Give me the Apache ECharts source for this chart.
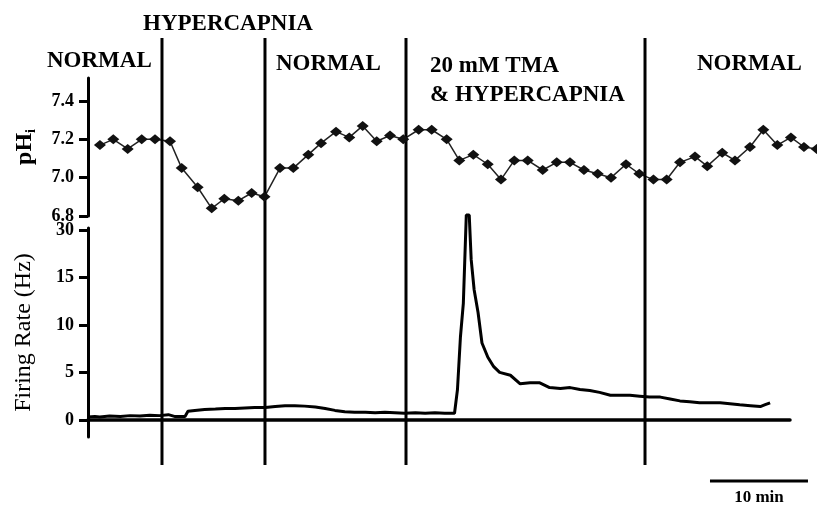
<!DOCTYPE html>
<html lang="en">
<head>
    <meta charset="utf-8">
    <title>pHi and firing rate</title>
    <script src="https://cdn.jsdelivr.net/npm/echarts@6/dist/echarts.min.js"></script>
</head>
<body style="margin:0;background:#fff;">
    <div id="main" style="width: 817px;height:507px;"></div>
<script type="text/javascript">
    // time in minutes from start of recording
    var phTime = [1.22, 2.58, 4.05, 5.48, 6.84, 8.37, 9.56, 11.19, 12.62, 13.91, 15.34, 16.70, 18.01,
        19.59, 20.95, 22.48, 23.78, 25.31, 26.66, 28.03, 29.46, 30.82, 32.17, 33.74, 35.07, 36.60,
        37.89, 39.32, 40.79, 42.14, 43.50, 44.87, 46.40, 47.83, 49.18, 50.61, 52.01, 53.37, 54.90,
        56.26, 57.70, 59.05, 60.41, 61.94, 63.19, 64.72, 66.02, 67.55, 68.91, 70.34, 71.73, 73.06, 74.36];
    var phValue = [7.17, 7.20, 7.15, 7.20, 7.20, 7.19, 7.05, 6.95, 6.84, 6.89, 6.88, 6.92, 6.90,
        7.05, 7.05, 7.12, 7.18, 7.24, 7.21, 7.27, 7.19, 7.22, 7.20, 7.25, 7.25, 7.20,
        7.09, 7.12, 7.07, 6.99, 7.09, 7.09, 7.04, 7.08, 7.08, 7.04, 7.02, 7.00, 7.07,
        7.02, 6.99, 6.99, 7.08, 7.11, 7.06, 7.13, 7.09, 7.16, 7.25, 7.17, 7.21, 7.16, 7.15];

    var rateTime = [0, 0.7, 1.2, 2.2, 3.3, 4.3, 5.3, 6.3, 7.3, 8.2, 8.9, 9.9, 10.2, 10.9, 11.9, 13.0,
        14.0, 15.0, 16.0, 17.0, 18.1, 19.1, 20.1, 21.1, 22.1, 23.2, 24.2, 25.2, 26.2, 27.2, 28.3,
        29.3, 30.3, 31.3, 32.3, 33.4, 34.4, 35.4, 36.4, 37.4, 37.7, 38.0, 38.3, 38.6, 38.9, 39.1,
        39.4, 39.8, 40.2, 40.8, 41.4, 42.0, 43.1, 44.1, 45.1, 46.1, 47.1, 48.2, 49.2, 50.2, 51.2,
        52.2, 53.3, 54.3, 55.3, 56.3, 57.3, 58.4, 59.4, 60.4, 61.4, 62.4, 63.5, 64.5, 65.5, 66.5,
        67.6, 68.6, 69.1, 69.6];
    var rateValue = [0.3, 0.35, 0.3, 0.4, 0.35, 0.45, 0.4, 0.5, 0.45, 0.55, 0.35, 0.35, 0.9, 1.0, 1.1, 1.15,
        1.2, 1.2, 1.25, 1.3, 1.3, 1.4, 1.5, 1.5, 1.45, 1.35, 1.2, 1.0, 0.85, 0.8, 0.8,
        0.75, 0.8, 0.75, 0.7, 0.75, 0.7, 0.75, 0.7, 0.7, 3.2, 8.7, 12.3, 34.7, 34.7, 20.6,
        13.7, 11.3, 8.1, 6.6, 5.6, 5.0, 4.7, 3.8, 3.9, 3.9, 3.4, 3.3, 3.4, 3.2, 3.1,
        2.9, 2.6, 2.6, 2.6, 2.5, 2.4, 2.4, 2.2, 2.0, 1.9, 1.8, 1.8, 1.8, 1.7, 1.6,
        1.5, 1.4, 1.6, 1.8];

    var eventTime = [7.55, 18.06, 32.45, 56.84];
    var phTicks = [6.8, 7.0, 7.2, 7.4];
    var rateTicks = [0, 5, 10, 15, 30];
    var scaleBar = [63.47, 73.47];   // 10 min

    var serif = "'Liberation Serif', 'Times New Roman', serif";

    // axis is compressed above 15 Hz (15 -> 30 takes one 5 Hz step)
    function toAxis(v) {
        return v <= 15 ? v : 15 + (v - 15) / 3;
    }
    function fromAxis(d) {
        return d <= 15 ? d : 15 + (d - 15) * 3;
    }

    var phData = phTime.map(function (t, i) { return [t, phValue[i]]; });
    var rateData = rateTime.map(function (t, i) { return [t, toAxis(rateValue[i])]; });

    var series = [
        {
            type: 'line',
            xAxisIndex: 0,
            yAxisIndex: 0,
            data: phData,
            symbol: 'diamond',
            symbolSize: [12, 10],
            itemStyle: { color: '#111' },
            lineStyle: { color: '#222', width: 1.5 },
            clip: false,
            animation: false
        },
        {
            type: 'line',
            xAxisIndex: 1,
            yAxisIndex: 1,
            data: rateData,
            showSymbol: false,
            lineStyle: { color: '#000', width: 3 },
            clip: false,
            animation: false
        }
    ];

    eventTime.forEach(function (t) {
        series.push({
            type: 'line',
            xAxisIndex: 2,
            yAxisIndex: 2,
            data: [[t, 0.036], [t, 1]],
            showSymbol: false,
            lineStyle: { color: '#000', width: 3 },
            clip: false,
            animation: false
        });
    });

    series.push({
        type: 'line',
        xAxisIndex: 2,
        yAxisIndex: 2,
        data: [[scaleBar[0], 0], [scaleBar[1], 0]],
        showSymbol: false,
        lineStyle: { color: '#000', width: 3 },
        clip: false,
        animation: false
    });

    var myChart = echarts.init(document.getElementById('main'));

    var option = {
        backgroundColor: '#fff',
        animation: false,
        grid: [
            { left: 88, top: 78, width: 729, height: 138 },
            { left: 88, top: 228, width: 702, height: 209 },
            { left: 88, top: 38, width: 729, height: 443 }
        ],
        xAxis: [
            { gridIndex: 0, type: 'value', min: 0, max: 74.39, show: false },
            {
                gridIndex: 1, type: 'value', min: 0, max: 71.63,
                axisLine: { onZero: true, lineStyle: { color: '#000', width: 3.5 } },
                axisTick: { show: false },
                axisLabel: { show: false },
                splitLine: { show: false }
            },
            { gridIndex: 2, type: 'value', min: 0, max: 74.39, show: false }
        ],
        yAxis: [
            {
                gridIndex: 0, type: 'value', min: 6.8, max: 7.52,
                name: '{a|pH}{b|i}',
                nameLocation: 'middle',
                nameRotate: 90,
                nameGap: 50,
                nameTextStyle: {
                    rich: {
                        a: { fontFamily: serif, fontWeight: 'bold', fontSize: 24, color: '#000' },
                        b: { fontFamily: serif, fontWeight: 'bold', fontSize: 14, color: '#000', padding: [12, 0, 0, 0] }
                    }
                },
                axisLine: { show: true, lineStyle: { color: '#000', width: 3 } },
                axisTick: { show: true, length: 9, customValues: phTicks, lineStyle: { color: '#000', width: 3 } },
                axisLabel: {
                    customValues: phTicks,
                    margin: 14,
                    fontFamily: serif, fontWeight: 'bold', fontSize: 18, color: '#000',
                    formatter: function (v) { return v.toFixed(1); }
                },
                splitLine: { show: false }
            },
            {
                gridIndex: 1, type: 'value', min: -1.8, max: 20.2,
                name: 'Firing Rate (Hz)',
                nameLocation: 'middle',
                nameRotate: 90,
                nameGap: 52,
                nameTextStyle: { fontFamily: serif, fontSize: 24, color: '#000' },
                axisLine: { show: true, lineStyle: { color: '#000', width: 3 } },
                axisTick: { show: true, length: 9, customValues: rateTicks.map(toAxis), lineStyle: { color: '#000', width: 3 } },
                axisLabel: {
                    customValues: rateTicks.map(toAxis),
                    margin: 14,
                    fontFamily: serif, fontWeight: 'bold', fontSize: 18, color: '#000',
                    formatter: function (v) { return String(Math.round(fromAxis(v))); }
                },
                splitLine: { show: false }
            },
            { gridIndex: 2, type: 'value', min: 0, max: 1, show: false }
        ],
        graphic: [
            { type: 'text', x: 143, y: 24, style: { text: 'HYPERCAPNIA', fontFamily: serif, fontWeight: 'bold', fontSize: 23, fill: '#000', verticalAlign: 'middle' } },
            { type: 'text', x: 47, y: 61, style: { text: 'NORMAL', fontFamily: serif, fontWeight: 'bold', fontSize: 23, fill: '#000', verticalAlign: 'middle' } },
            { type: 'text', x: 276, y: 64, style: { text: 'NORMAL', fontFamily: serif, fontWeight: 'bold', fontSize: 23, fill: '#000', verticalAlign: 'middle' } },
            { type: 'text', x: 430, y: 66, style: { text: '20 mM TMA', fontFamily: serif, fontWeight: 'bold', fontSize: 23, fill: '#000', verticalAlign: 'middle' } },
            { type: 'text', x: 430, y: 95, style: { text: '& HYPERCAPNIA', fontFamily: serif, fontWeight: 'bold', fontSize: 23, fill: '#000', verticalAlign: 'middle' } },
            { type: 'text', x: 697, y: 64, style: { text: 'NORMAL', fontFamily: serif, fontWeight: 'bold', fontSize: 23, fill: '#000', verticalAlign: 'middle' } },
            { type: 'text', x: 759, y: 498, style: { text: '10 min', fontFamily: serif, fontWeight: 'bold', fontSize: 17, fill: '#000', align: 'center', verticalAlign: 'middle' } }
        ],
        series: series
    };

    myChart.setOption(option);
</script>
</body>
</html>
